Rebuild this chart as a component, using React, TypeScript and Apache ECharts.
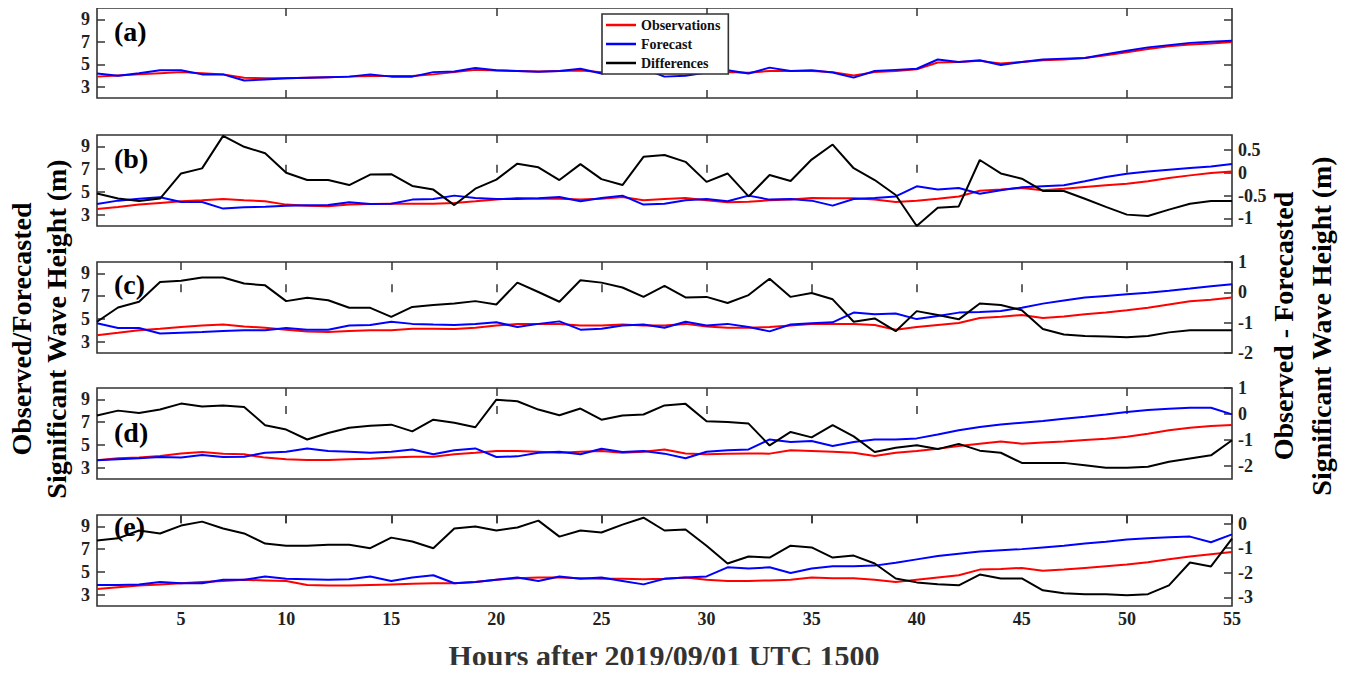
import React, { useEffect, useRef } from "react";
import * as echarts from "echarts";

const hours = [1,2,3,4,5,6,7,8,9,10,11,12,13,14,15,16,17,18,19,20,21,22,23,24,25,26,27,28,29,30,31,32,33,34,35,36,37,38,39,40,41,42,43,44,45,46,47,48,49,50,51,52,53,54,55];

const obsA = [3.9,4.0,4.1,4.2,4.3,4.2,4.1,3.8,3.75,3.75,3.8,3.85,3.9,3.95,3.95,3.95,4.1,4.3,4.5,4.45,4.4,4.35,4.4,4.45,4.3,4.4,4.5,4.2,4.2,4.25,4.3,4.25,4.4,4.4,4.4,4.3,4.0,4.3,4.4,4.55,5.15,5.2,5.3,5.07,5.2,5.35,5.42,5.56,5.8,6.07,6.36,6.6,6.75,6.85,6.97];
const fcA = [4.18,3.97,4.2,4.47,4.47,4.1,4.1,3.55,3.65,3.75,3.8,3.85,3.9,4.1,3.9,3.9,4.3,4.35,4.67,4.47,4.4,4.33,4.4,4.6,4.18,4.47,4.6,3.9,3.97,4.26,4.47,4.18,4.7,4.4,4.47,4.26,3.81,4.4,4.5,4.6,5.42,5.2,5.35,4.93,5.2,5.42,5.5,5.56,5.9,6.2,6.5,6.7,6.9,7.0,7.1];

const obsB = [3.5,3.67,3.88,4.03,4.17,4.26,4.38,4.26,4.17,3.88,3.79,3.73,3.88,3.93,3.96,3.96,3.96,4.03,4.17,4.32,4.46,4.4,4.4,4.32,4.4,4.55,4.26,4.38,4.46,4.26,4.08,4.14,4.26,4.32,4.46,4.44,4.44,4.32,4.11,4.23,4.4,4.6,5.1,5.2,5.34,5.14,5.28,5.43,5.58,5.72,5.93,6.22,6.45,6.66,6.8];
const fcB = [3.94,4.23,4.4,4.52,4.11,4.11,3.53,3.64,3.7,3.79,3.82,3.85,4.08,3.93,3.96,4.32,4.38,4.67,4.46,4.38,4.38,4.44,4.55,4.17,4.46,4.67,3.88,3.96,4.26,4.38,4.17,4.67,4.32,4.38,4.23,3.79,4.38,4.46,4.6,5.49,5.2,5.34,4.84,5.14,5.4,5.49,5.58,5.93,6.31,6.6,6.8,6.95,7.1,7.24,7.45];
const diffB = [-0.455,-0.567,-0.62,-0.567,-0.015,0.096,0.81,0.57,0.43,0.0,-0.16,-0.16,-0.27,-0.04,-0.03,-0.29,-0.37,-0.71,-0.35,-0.15,0.2,0.12,-0.16,0.19,-0.14,-0.27,0.35,0.39,0.24,-0.2,-0.015,-0.52,-0.05,-0.18,0.29,0.62,0.1,-0.16,-0.49,-1.17,-0.77,-0.74,0.28,-0.015,-0.13,-0.4,-0.4,-0.57,-0.75,-0.92,-0.95,-0.81,-0.68,-0.62,-0.62];

const obsC = [3.56,3.77,3.99,4.13,4.28,4.41,4.5,4.33,4.22,4.05,3.9,3.85,3.93,3.99,3.99,4.13,4.13,4.1,4.22,4.41,4.56,4.56,4.56,4.41,4.41,4.5,4.41,4.41,4.56,4.33,4.22,4.22,4.28,4.41,4.56,4.56,4.56,4.47,4.05,4.28,4.47,4.64,5.07,5.18,5.35,5.07,5.2,5.41,5.55,5.75,5.98,6.26,6.54,6.68,6.88];
const fcC = [4.61,4.19,4.19,3.71,3.79,3.85,3.93,3.99,3.99,4.19,4.05,4.05,4.41,4.47,4.75,4.56,4.5,4.47,4.56,4.7,4.28,4.56,4.78,4.05,4.13,4.41,4.5,4.22,4.75,4.41,4.56,4.28,3.9,4.5,4.61,4.7,5.55,5.4,5.47,4.98,5.26,5.55,5.6,5.69,5.98,6.34,6.62,6.88,7.02,7.16,7.3,7.47,7.67,7.87,8.04];
const diffC = [-0.97,-0.5,-0.31,0.34,0.38,0.49,0.49,0.29,0.23,-0.29,-0.18,-0.26,-0.51,-0.51,-0.81,-0.48,-0.42,-0.37,-0.29,-0.4,0.32,0.01,-0.31,0.4,0.32,0.16,-0.15,0.21,-0.17,-0.15,-0.35,-0.09,0.45,-0.15,-0.02,-0.23,-0.97,-0.86,-1.28,-0.62,-0.75,-0.89,-0.37,-0.42,-0.59,-1.21,-1.39,-1.44,-1.46,-1.48,-1.44,-1.32,-1.25,-1.25,-1.25];

const obsD = [3.64,3.82,3.88,4.02,4.25,4.37,4.23,4.17,3.88,3.73,3.67,3.67,3.73,3.79,3.88,3.96,3.96,4.17,4.31,4.46,4.46,4.4,4.31,4.4,4.46,4.31,4.4,4.6,4.25,4.17,4.23,4.25,4.23,4.52,4.46,4.4,4.31,4.02,4.31,4.46,4.66,4.9,5.1,5.3,5.1,5.2,5.3,5.43,5.54,5.72,5.98,6.28,6.51,6.66,6.74];
const fcD = [3.64,3.73,3.82,3.93,3.88,4.11,3.93,3.96,4.31,4.4,4.69,4.46,4.4,4.31,4.4,4.6,4.17,4.52,4.69,3.93,3.99,4.31,4.4,4.17,4.66,4.37,4.46,4.23,3.82,4.4,4.52,4.6,5.48,5.25,5.34,4.9,5.25,5.48,5.48,5.57,5.92,6.28,6.57,6.8,6.95,7.1,7.3,7.48,7.68,7.89,8.07,8.18,8.27,8.27,7.68];
const diffD = [-0.06,0.13,0.04,0.17,0.4,0.29,0.33,0.27,-0.43,-0.6,-0.98,-0.73,-0.53,-0.45,-0.41,-0.67,-0.22,-0.34,-0.51,0.55,0.49,0.17,-0.05,0.21,-0.22,-0.06,-0.02,0.33,0.39,-0.28,-0.31,-0.37,-1.21,-0.69,-0.9,-0.43,-0.86,-1.46,-1.3,-1.2,-1.35,-1.15,-1.41,-1.49,-1.88,-1.88,-1.88,-1.97,-2.07,-2.07,-2.03,-1.84,-1.71,-1.59,-1.01];

const obsE = [3.5,3.65,3.8,3.9,4.0,4.1,4.2,4.3,4.25,4.2,3.85,3.8,3.8,3.85,3.9,3.95,4.0,4.0,4.1,4.3,4.45,4.5,4.5,4.45,4.4,4.4,4.35,4.4,4.5,4.3,4.2,4.2,4.25,4.3,4.5,4.45,4.45,4.3,4.1,4.3,4.5,4.7,5.2,5.25,5.35,5.1,5.2,5.35,5.5,5.65,5.85,6.1,6.35,6.55,6.75];
const fcE = [3.85,3.85,3.9,4.1,4.0,4.0,4.3,4.3,4.6,4.4,4.35,4.3,4.35,4.6,4.2,4.5,4.7,4.0,4.1,4.3,4.5,4.2,4.6,4.4,4.5,4.2,3.9,4.4,4.5,4.6,5.4,5.3,5.4,4.9,5.3,5.5,5.5,5.55,5.8,6.1,6.4,6.6,6.8,6.9,7.0,7.15,7.3,7.5,7.65,7.85,7.95,8.05,8.1,7.6,8.3];
const diffE = [-0.69,-0.6,-0.28,-0.4,-0.08,0.08,-0.2,-0.4,-0.81,-0.9,-0.9,-0.86,-0.86,-1.0,-0.57,-0.73,-1.0,-0.2,-0.12,-0.28,-0.16,0.12,-0.53,-0.28,-0.36,-0.04,0.24,-0.28,-0.24,-0.9,-1.62,-1.34,-1.38,-0.9,-0.97,-1.38,-1.3,-1.62,-2.23,-2.39,-2.47,-2.51,-2.07,-2.23,-2.23,-2.71,-2.83,-2.87,-2.87,-2.91,-2.87,-2.51,-1.58,-1.74,-0.61];

const leftTicks = [3, 5, 7, 9];
const xTicksTen = [10, 20, 30, 40, 50];
const xTicksFive = [5, 10, 15, 20, 25, 30, 35, 40, 45, 50, 55];
const rightTicksB = [-1, -0.5, 0, 0.5];
const rightTicksC = [-2, -1, 0, 1];
const rightTicksD = [-2, -1, 0, 1];
const rightTicksE = [-3, -2, -1, 0];
const panelLabels = ["(a)", "(b)", "(c)", "(d)", "(e)"];
const seriesNames = ["Observations", "Forecast", "Differences"];

const FONT = "'Liberation Serif', 'Times New Roman', serif";
const AX = "#333333";

export default function App() {
  const ref = useRef<HTMLDivElement>(null);
  useEffect(() => {
    if (!ref.current) return;
    const chart = echarts.init(ref.current, null, { renderer: "svg" });

    const panels = [
      { top: 8, obs: obsA, fc: fcA, diff: null as number[] | null, xt: xTicksTen, rmin: 2, rmax: 10, rt: leftTicks, labelY: 31 },
      { top: 135, obs: obsB, fc: fcB, diff: diffB, xt: xTicksTen, rmin: -1.17, rmax: 0.83, rt: rightTicksB, labelY: 158 },
      { top: 262, obs: obsC, fc: fcC, diff: diffC, xt: xTicksFive, rmin: -2, rmax: 1, rt: rightTicksC, labelY: 284 },
      { top: 388, obs: obsD, fc: fcD, diff: diffD, xt: xTicksTen, rmin: -2.5, rmax: 1, rt: rightTicksD, labelY: 432 },
      { top: 515, obs: obsE, fc: fcE, diff: diffE, xt: xTicksFive, rmin: -3.35, rmax: 0.35, rt: rightTicksE, labelY: 526 },
    ];
    const H = 91;
    const labelStyle = { fontFamily: FONT, fontWeight: "bold" as const, fontSize: 18, color: "#222" };
    const tickStyle = { inside: true, length: 8, lineStyle: { color: AX, width: 1.5 } };

    const grid: any[] = [];
    const xAxis: any[] = [];
    const yAxis: any[] = [];
    const series: any[] = [];
    const graphic: any[] = [];

    panels.forEach((p, k) => {
      grid.push({ left: 97, right: 117, top: p.top, height: k === 0 ? 90 : H, show: true, borderColor: AX, borderWidth: 1.6, backgroundColor: "transparent" });
      xAxis.push({
        gridIndex: k, type: "value", min: 1, max: 55, position: "bottom",
        axisLine: { show: false }, splitLine: { show: false },
        axisTick: { ...tickStyle, customValues: p.xt },
        axisLabel: { show: k === 4, customValues: p.xt, margin: 4, ...labelStyle },
      });
      xAxis.push({
        gridIndex: k, type: "value", min: 1, max: 55, position: "top",
        axisLine: { show: false }, splitLine: { show: false },
        axisTick: { ...tickStyle, customValues: p.xt },
        axisLabel: { show: false },
      });
      yAxis.push({
        gridIndex: k, type: "value", min: 2, max: 10, position: "left",
        axisLine: { show: false }, splitLine: { show: false },
        axisTick: { ...tickStyle, customValues: leftTicks },
        axisLabel: { customValues: leftTicks, margin: 7, ...labelStyle },
      });
      yAxis.push({
        gridIndex: k, type: "value", min: p.rmin, max: p.rmax, position: "right",
        axisLine: { show: false }, splitLine: { show: false },
        axisTick: { ...tickStyle, customValues: p.rt },
        axisLabel: { show: k !== 0, customValues: p.rt, margin: 6, ...labelStyle },
      });
      const xi = k * 2;
      const yl = k * 2;
      series.push({
        name: seriesNames[0], type: "line", xAxisIndex: xi, yAxisIndex: yl, symbol: "none",
        lineStyle: { color: "#ff0000", width: 2 }, itemStyle: { color: "#ff0000" },
        data: hours.map((h, i) => [h, p.obs[i]]),
      });
      series.push({
        name: seriesNames[1], type: "line", xAxisIndex: xi, yAxisIndex: yl, symbol: "none",
        lineStyle: { color: "#0000ff", width: 2 }, itemStyle: { color: "#0000ff" },
        data: hours.map((h, i) => [h, p.fc[i]]),
      });
      if (p.diff) {
        const d = p.diff;
        series.push({
          name: seriesNames[2], type: "line", xAxisIndex: xi, yAxisIndex: yl + 1, symbol: "none",
          lineStyle: { color: "#000000", width: 2 }, itemStyle: { color: "#000000" },
          data: hours.map((h, i) => [h, d[i]]),
        });
      }
      graphic.push({
        type: "text", x: 114, y: p.labelY,
        style: { text: panelLabels[k], font: `bold 28px ${FONT}`, fill: "#000", textVerticalAlign: "middle" },
      });
    });

    const ylabFont = `bold 28px ${FONT}`;
    graphic.push({
      type: "text", x: 21, y: 329, rotation: Math.PI / 2,
      style: { text: "Observed/Forecasted", font: ylabFont, fill: "#000", textAlign: "center", textVerticalAlign: "middle" },
    });
    graphic.push({
      type: "text", x: 56, y: 329, rotation: Math.PI / 2,
      style: { text: "Significant Wave Height (m)", font: ylabFont, fill: "#000", textAlign: "center", textVerticalAlign: "middle" },
    });
    graphic.push({
      type: "text", x: 1283, y: 326, rotation: Math.PI / 2,
      style: { text: "Observed - Forecasted", font: ylabFont, fill: "#000", textAlign: "center", textVerticalAlign: "middle" },
    });
    graphic.push({
      type: "text", x: 1321, y: 326, rotation: Math.PI / 2,
      style: { text: "Significant Wave Height (m)", font: ylabFont, fill: "#000", textAlign: "center", textVerticalAlign: "middle" },
    });
    graphic.push({
      type: "text", x: 664, y: 655,
      style: { text: "Hours after 2019/09/01 UTC 1500", font: `bold 30px ${FONT}`, fill: "#333", textAlign: "center", textVerticalAlign: "middle" },
    });

    chart.setOption({
      animation: false,
      backgroundColor: "#ffffff",
      grid, xAxis, yAxis, series, graphic,
      legend: {
        data: seriesNames,
        orient: "vertical",
        left: 602, top: 14,
        backgroundColor: "#ffffff",
        borderColor: AX, borderWidth: 1.6,
        padding: [4, 8, 4, 4],
        icon: "rect",
        itemGap: 5, itemWidth: 30, itemHeight: 2.5,
        textStyle: { fontFamily: FONT, fontWeight: "bold", fontSize: 14, color: "#111", lineHeight: 13 },
        selectedMode: false,
      },
    });
    return () => chart.dispose();
  }, []);
  return <div ref={ref} style={{ width: 1349, height: 673, margin: -8 }} />;
}
